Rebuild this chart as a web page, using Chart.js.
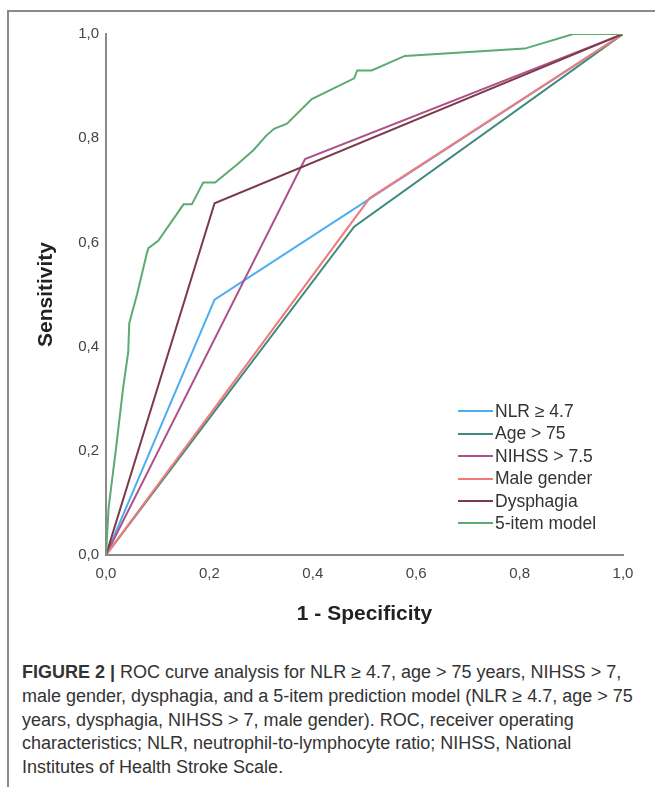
<!DOCTYPE html>
<html>
<head>
<meta charset="utf-8">
<script src="https://cdn.jsdelivr.net/npm/chart.js@4.4.1/dist/chart.umd.min.js"></script>
<style>
  body { margin: 0; background: #fff; width: 655px; height: 787px; position: relative; overflow: hidden; font-family: 'Liberation Sans', Arial, sans-serif; }
  #frame { position: absolute; left: 7px; top: 10px; right: 0; bottom: 0; border-top: 2px solid #8a8a8a; border-left: 2px solid #8a8a8a; }
  #chart { position: absolute; left: 0; top: 0; }
  #legend { position: absolute; left: 458px; top: 400px; font-size: 17.5px; line-height: 22.4px; color: #333; }
  #legend div { white-space: nowrap; }
  #legend span { display: inline-block; width: 35px; height: 2px; vertical-align: middle; margin-right: 2px; position: relative; top: -1px; }
  #caption { position: absolute; left: 22px; top: 661px; font-size: 18px; line-height: 23.75px; color: #333; white-space: nowrap; }
</style>
</head>
<body>
<div id="frame"></div>
<canvas id="chart" width="655" height="640"></canvas>
<div id="legend"></div>
<div id="caption"><b>FIGURE 2 |</b> ROC curve analysis for NLR ≥ 4.7, age &gt; 75 years, NIHSS &gt; 7,<br>male gender, dysphagia, and a 5-item prediction model (NLR ≥ 4.7, age &gt; 75<br>years, dysphagia, NIHSS &gt; 7, male gender). ROC, receiver operating<br>characteristics; NLR, neutrophil-to-lymphocyte ratio; NIHSS, National<br>Institutes of Health Stroke Scale.</div>
<script>
// series names (legend order)
var seriesNames = ['NLR ≥ 4.7', 'Age > 75', 'NIHSS > 7.5', 'Male gender', 'Dysphagia', '5-item model'];
var seriesColors = ['#4aaef0', '#3d8b7f', '#ad5289', '#f27a7a', '#7c3b49', '#5cab70'];

// ROC points: 1 - specificity / sensitivity
var nlrFpr = [0, 0.21, 1];
var nlrTpr = [0, 0.49, 1];
var ageFpr = [0, 0.48, 1];
var ageTpr = [0, 0.63, 1];
var nihssFpr = [0, 0.385, 1];
var nihssTpr = [0, 0.76, 1];
var maleFpr = [0, 0.51, 1];
var maleTpr = [0, 0.685, 1];
var dysFpr = [0, 0.21, 1];
var dysTpr = [0, 0.675, 1];
var modelFpr = [0, 0.005, 0.02, 0.033, 0.043, 0.045, 0.06, 0.079, 0.082, 0.101, 0.15, 0.166, 0.188, 0.211, 0.253, 0.285, 0.31, 0.325, 0.35, 0.398, 0.48, 0.486, 0.514, 0.578, 0.81, 0.904, 1];
var modelTpr = [0, 0.09, 0.21, 0.32, 0.39, 0.445, 0.5, 0.579, 0.589, 0.603, 0.673, 0.673, 0.715, 0.715, 0.749, 0.777, 0.805, 0.818, 0.828, 0.875, 0.915, 0.93, 0.93, 0.958, 0.972, 1, 1];

var tickLabels = ['0,0', '0,2', '0,4', '0,6', '0,8', '1,0'];

var xs = [nlrFpr, ageFpr, nihssFpr, maleFpr, dysFpr, modelFpr];
var ys = [nlrTpr, ageTpr, nihssTpr, maleTpr, dysTpr, modelTpr];

function toPoints(x, y) {
  return x.map(function(v, i) { return {x: v, y: y[i]}; });
}

var datasets = seriesNames.map(function(name, i) {
  return {
    label: name,
    data: toPoints(xs[i], ys[i]),
    borderColor: seriesColors[i],
    backgroundColor: seriesColors[i],
    borderWidth: 2,
    pointRadius: 0,
    tension: 0,
    fill: false,
    order: seriesNames.length - i  // later series on top, like SPSS
  };
});

var fontFamily = "'Liberation Sans', Arial, sans-serif";
var axisColor = '#8a8a8a';

var chart = new Chart(document.getElementById('chart'), {
  type: 'line',
  data: { datasets: datasets },
  options: {
    responsive: false,
    animation: false,
    layout: { padding: { top: 34, right: 32, left: 0, bottom: 0 } },
    plugins: { legend: { display: false }, tooltip: { enabled: false } },
    scales: {
      x: {
        type: 'linear', min: 0, max: 1,
        ticks: {
          stepSize: 0.2, padding: 10, color: '#444',
          font: { family: fontFamily, size: 15 },
          callback: function(v, i) { return tickLabels[i]; }
        },
        grid: { drawOnChartArea: false, drawTicks: false },
        border: { display: true, color: axisColor, width: 2 },
        title: {
          display: true, text: '1 - Specificity', color: '#222',
          font: { family: fontFamily, size: 21, weight: 'bold' },
          padding: { top: 0, bottom: 13 }
        },
        afterFit: function(scale) { scale.height = 85; }
      },
      y: {
        type: 'linear', min: 0, max: 1,
        ticks: {
          stepSize: 0.2, padding: 7, color: '#444',
          font: { family: fontFamily, size: 15 },
          callback: function(v, i) { return tickLabels[i]; }
        },
        grid: { drawOnChartArea: false, drawTicks: false },
        border: { display: true, color: axisColor, width: 2 },
        title: {
          display: true, text: 'Sensitivity', color: '#222',
          font: { family: fontFamily, size: 21, weight: 'bold' },
          padding: { top: 34, bottom: 0 }
        },
        afterFit: function(scale) { scale.width = 106; }
      }
    }
  }
});

// legend drawn as html from the chart's datasets
var legendBox = document.getElementById('legend');
chart.data.datasets.forEach(function(ds) {
  var row = document.createElement('div');
  var swatch = document.createElement('span');
  swatch.style.background = ds.borderColor;
  row.appendChild(swatch);
  row.appendChild(document.createTextNode(ds.label));
  legendBox.appendChild(row);
});
</script>
</body>
</html>
